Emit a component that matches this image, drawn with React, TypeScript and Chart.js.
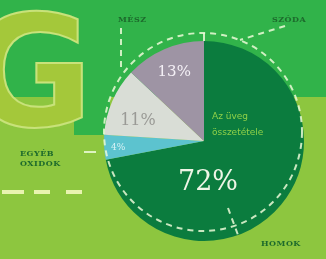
import React, { useEffect, useRef } from "react";
import { Chart, registerables } from "chart.js";
Chart.register(...registerables);

const categories = ["Homok", "Egyéb oxidok", "Mész", "Szóda"];
const values = [72, 4, 11, 13];
const valueLabels = ["72%", "4%", "11%", "13%"];
const sliceColors = ["#0b7c3e", "#5cc3cf", "#d9ddd6", "#9e94a4"];
const labelColors = ["#eef6e6", "#d8f2f5", "#9a9a96", "#f4f0f6"];
const labelSizes = [27, 9, 16, 15];
const labelRadius = [0.42, 0.86, 0.72, 0.75];
const labelShiftY = [0, 1, 8, 0];

const BRIGHT = "#31b34a";
const LIME = "#8dc63f";

export default function App() {
  const ref = useRef<HTMLCanvasElement>(null);
  useEffect(() => {
    document.body.style.margin = "0";
    const labelPlugin = {
      id: "sliceLabels",
      afterDatasetsDraw(chart: any) {
        const ctx = chart.ctx;
        const meta = chart.getDatasetMeta(0);
        meta.data.forEach((arc: any, i: number) => {
          const mid = (arc.startAngle + arc.endAngle) / 2;
          const r = arc.outerRadius * labelRadius[i];
          let x = arc.x + Math.cos(mid) * r;
          let y = arc.y + Math.sin(mid) * r + labelShiftY[i];
          if (i === 0) { x = arc.x + 4; y = arc.y + 42; }
          ctx.save();
          ctx.fillStyle = labelColors[i];
          ctx.font = `${labelSizes[i]}px 'DejaVu Serif'`;
          ctx.textAlign = "center";
          ctx.textBaseline = "middle";
          ctx.fillText(valueLabels[i], x, y);
          ctx.restore();
        });
        const a = meta.data[0];
        ctx.save();
        ctx.fillStyle = "#8fd048";
        ctx.font = "9px 'DejaVu Sans'";
        ctx.textAlign = "left";
        ctx.textBaseline = "middle";
        ctx.fillText("Az üveg", a.x + 8, a.y - 24);
        ctx.fillText("összetétele", a.x + 8, a.y - 8);
        ctx.restore();
        ctx.save();
        ctx.strokeStyle = "rgba(235,250,215,0.85)";
        ctx.lineWidth = 2;
        ctx.setLineDash([6, 5]);
        ctx.beginPath();
        ctx.arc(a.x - 1, a.y - 9, a.outerRadius - 1, 0, Math.PI * 2);
        ctx.stroke();
        ctx.beginPath();
        ctx.moveTo(121, 28);
        ctx.lineTo(121, 70);
        ctx.moveTo(285, 26);
        ctx.lineTo(240, 40);
        ctx.moveTo(228, 208);
        ctx.lineTo(238, 235);
        ctx.stroke();
        ctx.setLineDash([]);
        ctx.beginPath();
        ctx.moveTo(a.x, a.y - a.outerRadius - 8);
        ctx.lineTo(a.x, a.y - a.outerRadius);
        ctx.moveTo(84, 152);
        ctx.lineTo(96, 152);
        ctx.stroke();
        ctx.restore();
      },
    };
    const chart = new Chart(ref.current!, {
      type: "pie",
      data: {
        labels: categories,
        datasets: [{ data: values, backgroundColor: sliceColors, borderWidth: 0 }],
      },
      options: {
        responsive: false,
        animation: false,
        layout: { padding: { left: 104, right: 22, top: 41, bottom: 18 } },
        plugins: { legend: { display: false }, tooltip: { enabled: false } },
      },
      plugins: [labelPlugin],
    });
    return () => chart.destroy();
  }, []);

  const tag: React.CSSProperties = {
    position: "absolute",
    fontFamily: "'DejaVu Serif', serif",
    fontWeight: "bold",
    fontSize: 8,
    color: "#1d6a2c",
    letterSpacing: 0.5,
    lineHeight: "10px",
  };

  return (
    <div style={{ position: "fixed", left: 0, top: 0, width: 326, height: 259, overflow: "hidden", background: LIME }}>
      <div style={{ position: "absolute", left: 0, top: 0, width: 326, height: 97, background: BRIGHT }} />
      <div style={{ position: "absolute", left: 74, top: 90, width: 36, height: 45, background: BRIGHT }} />
      <div style={{ position: "absolute", left: 300, top: 97, width: 26, height: 162, background: LIME }} />
      <div
        style={{
          position: "absolute",
          left: -34,
          top: -22,
          fontFamily: "'DejaVu Sans', sans-serif",
          fontWeight: "bold",
          fontSize: 155,
          lineHeight: "190px",
          color: "#a4c83a",
          WebkitTextStroke: "2px #c8e27a",
        }}
      >
        G
      </div>
      <canvas ref={ref} width={326} height={259} style={{ position: "absolute", left: 0, top: 0 }} />
      <div style={{ ...tag, left: 118, top: 14 }}>MÉSZ</div>
      <div style={{ ...tag, left: 272, top: 14 }}>SZÓDA</div>
      <div style={{ ...tag, left: 20, top: 148 }}>EGYÉB<br />OXIDOK</div>
      <div style={{ ...tag, left: 261, top: 238 }}>HOMOK</div>
      <div style={{ position: "absolute", left: 2, top: 190, width: 22, height: 4, background: "#e8f3b0" }} />
      <div style={{ position: "absolute", left: 34, top: 190, width: 16, height: 4, background: "#e8f3b0" }} />
      <div style={{ position: "absolute", left: 66, top: 190, width: 16, height: 4, background: "#e8f3b0" }} />
    </div>
  );
}
